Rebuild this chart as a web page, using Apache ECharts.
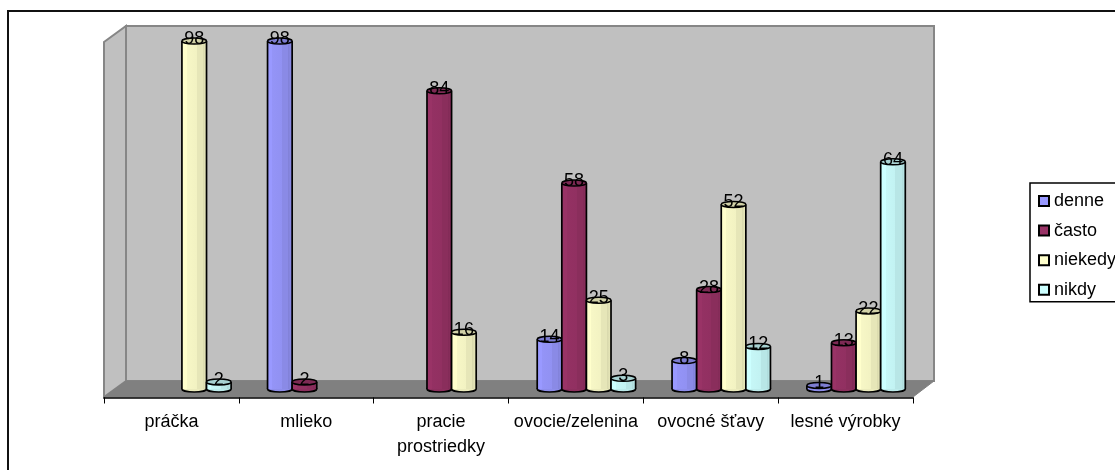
<!DOCTYPE html>
<html>
<head>
<meta charset="utf-8">
<script src="https://cdn.jsdelivr.net/npm/echarts@6/dist/echarts.min.js"></script>
<style>
html, body { margin: 0; padding: 0; background: #fff; }
#chart { width: 1115px; height: 470px; }
</style>
</head>
<body>
<div id="chart"></div>
<script>
var categories = ['práčka', 'mlieko', 'pracie\nprostriedky', 'ovocie/zelenina', 'ovocné šťavy', 'lesné výrobky'];
var denne = [null, 98, null, 14, 8, 1];
var casto = [null, 2, 84, 58, 28, 13];
var niekedy = [98, null, 16, 25, 52, 22];
var nikdy = [2, null, null, 3, 12, 64];

var seriesNames = ['denne', 'často', 'niekedy', 'nikdy'];
var seriesColors = ['#9999ff', '#993366', '#ffffcc', '#ccffff'];
var seriesValues = [denne, casto, niekedy, nikdy];

var barW = 24.6;
var depthShift = 10.5; // bars stand in the middle of the floor, not on the front edge

function shade(hex, k) {
    var n = parseInt(hex.slice(1), 16);
    var r = Math.round((n >> 16 & 255) * k);
    var g = Math.round((n >> 8 & 255) * k);
    var b = Math.round((n & 255) * k);
    return 'rgb(' + r + ',' + g + ',' + b + ')';
}

function cylinder(idx) {
    var color = seriesColors[idx];
    var fill = {
        type: 'linear', x: 0, y: 0, x2: 1, y2: 0,
        colorStops: [
            { offset: 0, color: color },
            { offset: 0.2, color: color },
            { offset: 0.2, color: shade(color, 0.97) },
            { offset: 0.6, color: shade(color, 0.95) },
            { offset: 0.6, color: shade(color, 0.9) },
            { offset: 0.85, color: shade(color, 0.9) },
            { offset: 0.85, color: shade(color, 0.85) },
            { offset: 1, color: shade(color, 0.92) }
        ]
    };
    return function (params, api) {
        var top = api.coord([api.value(0), api.value(1)]);
        var base = api.coord([api.value(0), 0]);
        var x = top[0] - 2 * barW + idx * barW + depthShift;
        var cx = x + barW / 2;
        var line = { fill: 'none', stroke: '#000', lineWidth: 1.7 };
        return {
            type: 'group',
            children: [
                { type: 'ellipse', shape: { cx: cx, cy: base[1], rx: barW / 2, ry: 3 },
                  style: { fill: shade(color, 0.92), stroke: '#000', lineWidth: 1.7 } },
                { type: 'rect', shape: { x: x, y: top[1], width: barW, height: base[1] - top[1] },
                  style: { fill: fill } },
                { type: 'line', shape: { x1: x, y1: top[1], x2: x, y2: base[1] }, style: line },
                { type: 'line', shape: { x1: x + barW, y1: top[1], x2: x + barW, y2: base[1] }, style: line },
                { type: 'ellipse', shape: { cx: cx, cy: top[1], rx: barW / 2, ry: 3 },
                  style: { fill: shade(color, 0.82), stroke: '#000', lineWidth: 1.5 } },
                { type: 'text', z2: 100, x: cx, y: top[1] + 7,
                  style: { text: String(api.value(1)), fill: '#000', align: 'center', verticalAlign: 'bottom',
                           font: '18px "Liberation Sans", Arial, sans-serif' } }
            ]
        };
    };
}

var wallColor = '#c0c0c0';
var wallEdge = { fill: wallColor, stroke: '#868686', lineWidth: 2 };

var chart = echarts.init(document.getElementById('chart'), null, { renderer: 'canvas' });
chart.setOption({
    animation: false,
    backgroundColor: '#fff',
    textStyle: { fontFamily: '"Liberation Sans", Arial, sans-serif' },
    grid: { left: 104, top: 34, width: 809, height: 355 },
    legend: {
        orient: 'vertical',
        left: 1030,
        top: 183,
        padding: [9, 4, 3, 8],
        itemWidth: 10,
        itemHeight: 10,
        itemGap: 11.6,
        icon: 'rect',
        selectedMode: false,
        borderColor: '#000',
        borderWidth: 1.5,
        backgroundColor: '#fff',
        textStyle: { color: '#000', fontSize: 18 },
        data: seriesNames
    },
    xAxis: {
        type: 'category',
        data: categories,
        offset: 8.5,
        axisLine: { onZero: false, lineStyle: { color: '#000', width: 1.5 } },
        axisTick: { show: true, length: 6, lineStyle: { color: '#000', width: 1 } },
        axisLabel: { color: '#000', fontSize: 18, margin: 12, lineHeight: 25, interval: 0 }
    },
    yAxis: {
        type: 'value',
        min: 0,
        max: 100,
        show: false
    },
    graphic: {
        elements: [
            { type: 'polyline', z: -10, silent: true, shape: { points: [[8, 475], [8, 11], [1120, 11]] },
              style: { fill: 'none', stroke: '#111', lineWidth: 2 } },
            { type: 'polygon', z: -9, silent: true, shape: { points: [[126, 26], [934, 26], [934, 381], [126, 381]] }, style: wallEdge },
            { type: 'polygon', z: -9, silent: true, shape: { points: [[104, 42], [126, 26], [126, 381], [104, 397]] }, style: wallEdge },
            { type: 'polygon', z: -8, silent: true, shape: { points: [[104, 397], [126, 381], [934, 381], [913, 397]] },
              style: { fill: '#808080', stroke: '#808080', lineWidth: 1 } }
        ]
    },
    series: seriesNames.map(function (name, idx) {
        return {
            name: name,
            type: 'custom',
            coordinateSystem: 'cartesian2d',
            clip: false,
            itemStyle: { color: seriesColors[idx], borderColor: '#000', borderWidth: 1.5 },
            encode: { x: 0, y: 1 },
            renderItem: cylinder(idx),
            data: seriesValues[idx].map(function (v, i) {
                return [i, v];
            }).filter(function (d) {
                return d[1] !== null;
            })
        };
    })
});
</script>
</body>
</html>
